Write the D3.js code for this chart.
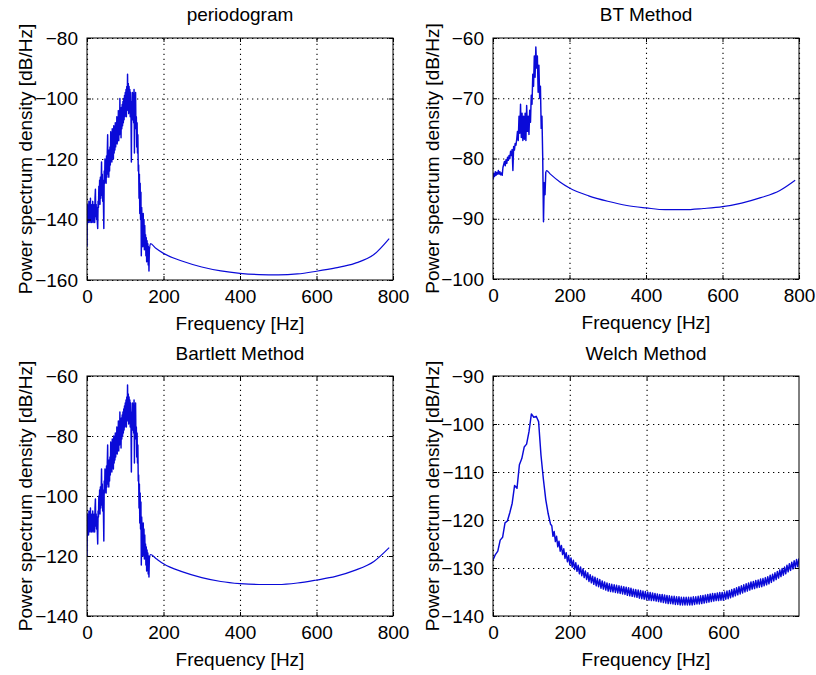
<!DOCTYPE html>
<html>
<head>
<meta charset="utf-8">
<script src="https://cdn.jsdelivr.net/npm/d3@7"></script>
<style>
  html, body { margin: 0; padding: 0; background: #fff; }
  svg { display: block; }
  text { font-family: "Liberation Sans", Arial, Helvetica, sans-serif; fill: #000; }
</style>
</head>
<body>
<svg id="fig" width="816" height="675"></svg>
<script>
/* 四種功率譜估計比較：periodogram / BT / Bartlett / Welch（MATLAB subplot 2x2 風格） */

// periodogram / Bartlett 雜訊段：0, 1, 2 ... 164 Hz（dB/Hz）
const periNoise = [
  -149, -135, -140, -136, -141, -134, -139, -137, -141, -133,
  -140, -135, -141, -137, -140, -134, -141, -136, -139, -135,
  -141, -133, -130, -139, -135, -140, -136, -141, -143, -134,
  -136, -129, -134, -127, -135, -126, -133, -128, -121, -132,
  -125, -134, -127, -135, -143, -124, -128, -120, -127, -122,
  -128, -119, -126, -118, -112, -125, -119, -126, -117, -124,
  -116, -122, -111, -120, -114, -121, -110, -119, -113, -120,
  -109, -118, -111, -117, -108, -116, -110, -114, -106, -115,
  -107, -113, -104, -114, -105, -112, -100, -111, -104, -113,
  -103, -110, -102, -109, -101, -108, -100, -107, -99, -106,
  -98, -105, -97, -106, -96, -104, -92, -103, -95, -105,
  -96, -104, -97, -106, -98, -105, -121, -101, -106, -98,
  -107, -99, -108, -97, -118, -100, -109, -98, -110, -106,
  -116, -108, -118, -112, -124, -122, -133, -125, -138, -128,
  -140, -131, -152, -136, -141, -139, -149, -138, -147, -140,
  -150, -142, -148, -145, -152, -146, -154, -147, -153, -148,
  -155, -149, -157, -150, -149];
const periCurve = [[166, -148], [180, -149.5], [200, -151.2], [250, -153.8], [300, -155.7], [350, -157],
  [400, -157.8], [450, -158.2], [500, -158.3], [550, -158], [600, -157.1], [650, -156], [700, -154.5],
  [750, -151.6], [790, -146.3]];

const bartNoise = [
  -120, -106, -112, -107, -113, -105, -110, -108, -112, -104,
  -111, -106, -112, -108, -111, -105, -112, -107, -110, -106,
  -112, -104, -101, -110, -106, -111, -107, -112, -116, -105,
  -107, -100, -105, -98, -106, -97, -104, -99, -91, -103,
  -96, -105, -98, -106, -115, -95, -99, -91, -98, -93,
  -99, -90, -97, -89, -83, -96, -90, -97, -88, -95,
  -87, -93, -82, -91, -85, -92, -81, -90, -84, -91,
  -80, -89, -82, -88, -79, -87, -81, -85, -77, -86,
  -78, -84, -75, -85, -76, -83, -72, -82, -75, -84,
  -74, -81, -73, -80, -72, -79, -71, -78, -70, -77,
  -69, -76, -68, -77, -67, -75, -63, -74, -66, -76,
  -67, -75, -68, -77, -69, -76, -92, -72, -77, -69,
  -78, -70, -79, -68, -89, -71, -80, -69, -81, -77,
  -87, -79, -89, -83, -95, -93, -104, -96, -109, -99,
  -111, -102, -123, -107, -112, -110, -120, -109, -118, -111,
  -121, -113, -119, -116, -123, -117, -125, -118, -124, -119,
  -126, -120, -127, -121, -120];
const bartCurve = [[166, -119.5], [180, -120.8], [200, -122.6], [250, -125.3], [300, -127.2], [350, -128.5],
  [400, -129.2], [450, -129.5], [500, -129.5], [550, -129], [600, -128], [650, -126.8], [700, -124.8],
  [750, -121.8], [790, -117.2]];

// BT 雜訊段：0, 2, 4 ... 138 Hz
const btNoise = [-83.5, -82.5, -83, -82.2, -82.8, -82.3, -82.6, -82, -82.6, -82.2, -82.7, -82.4, -82.8,
  -81.5, -81, -80.5, -81.2, -80.2, -80.8, -79.8, -80.3, -79.5, -80, -78.8, -79.5, -78.5, -82, -78,
  -78.6, -77.5, -77.8, -76.8, -75.5, -77, -73, -75.8, -71, -76.5, -72.5, -77, -73, -76.8, -72.5,
  -77, -71.2, -75.5, -73, -76, -72, -74, -69.5, -71, -66, -68, -63, -66.5, -61.5, -65, -63, -69,
  -64.5, -70, -68, -75, -73, -80, -90.5, -84, -86, -82.2];
const btCurve = [[140, -82], [150, -82.6], [175, -83.9], [200, -84.9], [250, -86.2], [300, -87.1],
  [350, -87.8], [400, -88.2], [450, -88.5], [500, -88.5], [550, -88.3], [600, -88], [650, -87.4],
  [700, -86.5], [750, -85.3], [790, -83.6]];

// Welch：峰值段 0 ~ 150 Hz（每 6.25 Hz），尾段 153.125 ~ 796.875 Hz（每 3.125 Hz）
const welchHead = [-128.3, -127.2, -126.5, -124.2, -123.6, -120.6, -120.2, -118.5, -116.5, -112.8,
  -113.4, -108.5, -107.2, -104.8, -104.2, -101.6, -97.9, -98.6, -98.4, -99.5,
  -106.5, -111.5, -115.8, -118.7, -120.9];
const welchTail = [
  -121.2, -123.4, -122.4, -124.5, -123.4, -125.6, -124.4, -126.5, -125.3, -127.2,
  -126.0, -128.0, -126.8, -128.7, -127.4, -129.3, -127.9, -129.8, -128.4, -130.3,
  -128.9, -130.7, -129.4, -131.2, -129.8, -131.6, -130.2, -132.0, -130.6, -132.4,
  -131.0, -132.8, -131.4, -133.1, -131.7, -133.4, -131.9, -133.7, -132.2, -133.9,
  -132.4, -134.2, -132.7, -134.4, -132.9, -134.6, -133.1, -134.8, -133.3, -134.9,
  -133.4, -135.0, -133.5, -135.1, -133.6, -135.2, -133.7, -135.3, -133.8, -135.4,
  -133.9, -135.5, -134.0, -135.7, -134.1, -135.8, -134.2, -135.9, -134.4, -136.0,
  -134.5, -136.1, -134.6, -136.3, -134.7, -136.4, -134.8, -136.5, -134.9, -136.6,
  -135.0, -136.7, -135.1, -136.8, -135.2, -136.8, -135.3, -136.9, -135.4, -137.0,
  -135.5, -137.1, -135.5, -137.2, -135.6, -137.3, -135.7, -137.4, -135.8, -137.4,
  -135.9, -137.5, -135.9, -137.6, -136.0, -137.6, -136.0, -137.7, -136.1, -137.7,
  -136.1, -137.7, -136.1, -137.7, -136.1, -137.7, -136.1, -137.7, -136.0, -137.6,
  -136.0, -137.5, -135.9, -137.5, -135.8, -137.4, -135.7, -137.3, -135.6, -137.2,
  -135.5, -137.1, -135.4, -137.0, -135.3, -136.9, -135.3, -136.8, -135.2, -136.8,
  -135.1, -136.7, -135.1, -136.7, -135.0, -136.5, -134.8, -136.4, -134.7, -136.2,
  -134.5, -136.0, -134.3, -135.8, -134.1, -135.6, -133.9, -135.4, -133.7, -135.2,
  -133.5, -135.0, -133.3, -134.8, -133.1, -134.6, -132.9, -134.4, -132.8, -134.3,
  -132.6, -134.1, -132.5, -134.0, -132.3, -133.9, -132.2, -133.7, -132.0, -133.5,
  -131.8, -133.3, -131.5, -133.0, -131.3, -132.7, -131.0, -132.4, -130.7, -132.1,
  -130.4, -131.8, -130.1, -131.5, -129.8, -131.2, -129.4, -130.8, -129.1, -130.5,
  -128.8, -130.2, -128.5, -129.9, -128.2, -129.7, -128.0];
const WELCH_HEAD_STEP = 6.25, WELCH_TAIL_START = 153.125, WELCH_TAIL_STEP = 3.125;

// 刻度
const freqTicks = [0, 200, 400, 600, 800];
const welchFreqTicks = [0, 200, 400, 600];
const periTicks = [-160, -140, -120, -100, -80];
const btTicks = [-100, -90, -80, -70, -60];
const bartTicks = [-140, -120, -100, -80, -60];
const welchTicks = [-140, -130, -120, -110, -100, -90];

const FONT = 19;
const LINE = "#0a0ad8";

const withFreq = (vals, step, start = 0) => vals.map((v, i) => [start + i * step, v]);

const periPts = withFreq(periNoise, 1);
const bartPts = withFreq(bartNoise, 1);
const btPts = withFreq(btNoise, 2);
const welchPts = withFreq(welchHead, WELCH_HEAD_STEP).concat(withFreq(welchTail, WELCH_TAIL_STEP, WELCH_TAIL_START));

const PANELS = [
  { title: "periodogram", box: [87, 38, 393, 280], xMax: 800, xTicks: freqTicks, yTicks: periTicks,
    noise: periPts, curve: [periPts[periPts.length - 1]].concat(periCurve) },
  { title: "BT Method", box: [493, 38, 799, 279], xMax: 800, xTicks: freqTicks, yTicks: btTicks,
    noise: btPts, curve: [btPts[btPts.length - 1]].concat(btCurve) },
  { title: "Bartlett Method", box: [87, 376, 393, 616], xMax: 800, xTicks: freqTicks, yTicks: bartTicks,
    noise: bartPts, curve: [bartPts[bartPts.length - 1]].concat(bartCurve) },
  { title: "Welch Method", box: [493, 376, 799, 616], xMax: 797, xTicks: welchFreqTicks, yTicks: welchTicks,
    noise: welchPts, curve: null }
];

const svg = d3.select("#fig");

PANELS.forEach((P, k) => {
  const [x0, y0, x1, y1] = P.box;
  const w = x1 - x0, h = y1 - y0;
  const x = d3.scaleLinear().domain([0, P.xMax]).range([0, w]);
  const y = d3.scaleLinear().domain(d3.extent(P.yTicks)).range([h, 0]);

  const g = svg.append("g").attr("transform", `translate(${x0},${y0})`);
  g.append("rect").attr("width", w).attr("height", h).attr("fill", "#fff");

  /* 格線（點線） */
  const gridX = g.append("g").attr("transform", `translate(0,${h})`)
    .call(d3.axisBottom(x).tickValues(P.xTicks).tickSize(-h).tickFormat(""));
  const gridY = g.append("g")
    .call(d3.axisLeft(y).tickValues(P.yTicks).tickSize(-w).tickFormat(""));
  [gridX, gridY].forEach(gg => {
    gg.select(".domain").remove();
    gg.selectAll("line").attr("stroke", "#000").attr("stroke-width", 1.1).attr("stroke-dasharray", "1.3,3.7");
  });

  /* 資料線：雜訊段折線，平滑段單調曲線 */
  const clipId = "clip" + k;
  g.append("clipPath").attr("id", clipId).append("rect").attr("width", w).attr("height", h);
  const plot = g.append("g").attr("clip-path", `url(#${clipId})`)
    .attr("fill", "none").attr("stroke", LINE).attr("stroke-linejoin", "round");
  const lin = d3.line().x(d => x(d[0])).y(d => y(d[1]));
  plot.append("path").datum(P.noise).attr("stroke-width", 1.45).attr("d", lin.curve(d3.curveLinear));
  if (P.curve) plot.append("path").datum(P.curve).attr("stroke-width", 1.2).attr("d", lin.curve(d3.curveMonotoneX));

  /* 座標軸：刻度朝內，四邊皆有 */
  const axB = g.append("g").attr("transform", `translate(0,${h})`)
    .call(d3.axisBottom(x).tickValues(P.xTicks).tickSize(-4).tickSizeOuter(0).tickPadding(10));
  const axL = g.append("g")
    .call(d3.axisLeft(y).tickValues(P.yTicks).tickSize(-4).tickSizeOuter(0).tickPadding(9));
  const axT = g.append("g")
    .call(d3.axisTop(x).tickValues(P.xTicks).tickSize(-4).tickSizeOuter(0).tickFormat(""));
  const axR = g.append("g").attr("transform", `translate(${w},0)`)
    .call(d3.axisRight(y).tickValues(P.yTicks).tickSize(-4).tickSizeOuter(0).tickFormat(""));
  [axB, axL, axT, axR].forEach(a => {
    a.attr("font-family", null).attr("font-size", null);
    a.select(".domain").remove();
    a.selectAll("line").attr("stroke", "#000");
    a.selectAll("text").attr("font-size", FONT).attr("fill", "#000");
  });

  g.append("rect").attr("width", w).attr("height", h)
    .attr("fill", "none").attr("stroke", "#000").attr("stroke-width", 1);

  /* 標題與軸標籤 */
  g.append("text").attr("x", w / 2).attr("y", k < 2 ? -17 : -16)
    .attr("text-anchor", "middle").attr("font-size", FONT).text(P.title);
  g.append("text").attr("x", w / 2).attr("y", h + 50)
    .attr("text-anchor", "middle").attr("font-size", FONT).text("Frequency [Hz]");
  g.append("text")
    .attr("transform", `translate(${k % 2 ? -54 : -55.5},${h / 2}) rotate(-90)`)
    .attr("text-anchor", "middle").attr("font-size", FONT).text("Power spectrum density [dB/Hz]");
});
</script>
</body>
</html>
